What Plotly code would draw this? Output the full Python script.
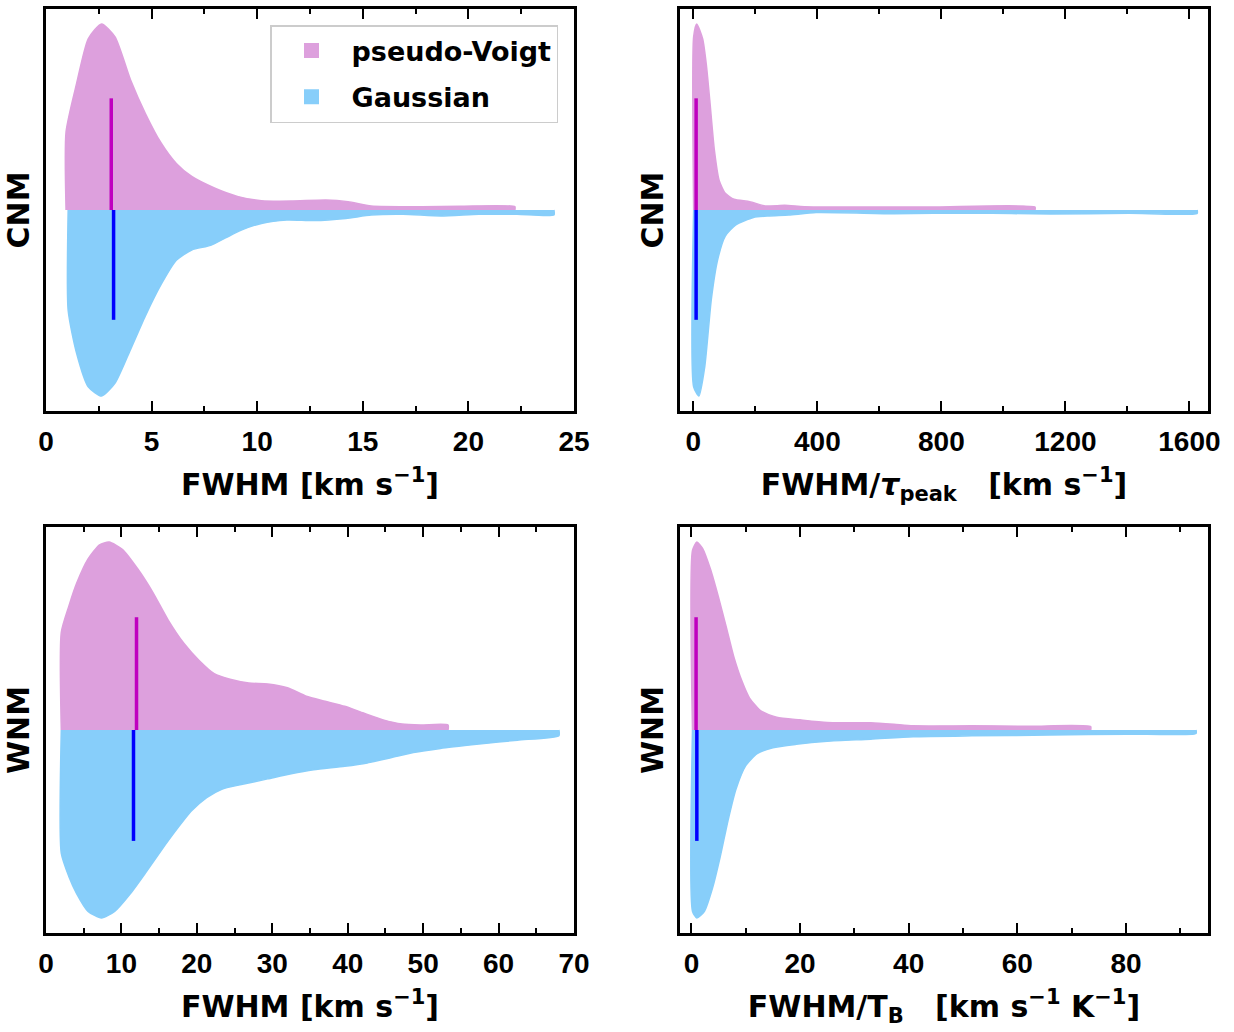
import plotly.graph_objects as go

# ---------------- data ----------------
# Panel A: CNM, FWHM [km/s]
cnm_fwhm_pv_x = [0.95, 1.45, 2.0, 2.63, 3.27, 4.0, 4.7, 5.45, 6.17, 6.9, 8.0, 9.1, 10.2, 11.6, 13.25, 14.3, 15.4, 17.8, 19.6, 22.2]
cnm_fwhm_pv_w = [0.42, 0.68, 0.92, 1.0, 0.93, 0.70, 0.52, 0.36, 0.25, 0.18, 0.117, 0.072, 0.05, 0.048, 0.054, 0.045, 0.022, 0.018, 0.02, 0.018]
cnm_fwhm_g_x = [1.05, 1.45, 2.0, 2.63, 3.27, 4.0, 4.7, 5.45, 6.17, 6.9, 7.8, 8.5, 9.25, 10.2, 11.4, 12.7, 14.2, 15.4, 16.9, 18.7, 20.5, 22.3, 24.05]
cnm_fwhm_g_w = [0.54, 0.77, 0.95, 1.0, 0.93, 0.75, 0.57, 0.40, 0.27, 0.215, 0.19, 0.15, 0.108, 0.072, 0.054, 0.057, 0.045, 0.027, 0.023, 0.032, 0.023, 0.023, 0.027]
cnm_fwhm_median = [3.09, 3.2]  # pseudo-Voigt, Gaussian

# Panel B: CNM, FWHM/tau_peak [km/s]
cnm_tau_pv_x = [1, 11, 30, 42, 53, 68, 83, 103, 131, 182, 232, 295, 358, 522, 774, 1102]
cnm_tau_pv_w = [0.93, 1.0, 0.92, 0.78, 0.59, 0.32, 0.16, 0.09, 0.058, 0.045, 0.022, 0.025, 0.018, 0.016, 0.016, 0.016]
cnm_tau_g_x = [1, 18, 37, 58, 78, 103, 137, 194, 245, 308, 396, 648, 900, 1152, 1404, 1625]
cnm_tau_g_w = [0.95, 1.0, 0.84, 0.48, 0.27, 0.14, 0.08, 0.04, 0.032, 0.027, 0.014, 0.02, 0.016, 0.022, 0.018, 0.018]
cnm_tau_median = [9, 9]

# Panel C: WNM, FWHM [km/s]
wnm_fwhm_pv_x = [2.03, 3.04, 4.06, 5.58, 7.1, 8.37, 10.15, 12.2, 14.2, 16.2, 18.3, 20.3, 22.3, 24.4, 26.9, 29.4, 32, 34.5, 37, 39.6, 42.1, 44.7, 47.2, 49.7, 53.3]
wnm_fwhm_pv_w = [0.52, 0.66, 0.78, 0.91, 0.985, 1.0, 0.96, 0.855, 0.73, 0.585, 0.46, 0.37, 0.30, 0.27, 0.25, 0.245, 0.225, 0.18, 0.153, 0.126, 0.09, 0.054, 0.032, 0.027, 0.027]
wnm_fwhm_g_x = [2.03, 3.04, 4.06, 5.58, 7.35, 9.1, 11.2, 13.2, 15.2, 17.3, 19.3, 21.3, 23.3, 25.9, 29.4, 32.5, 35.5, 39.6, 42.6, 45.7, 48.7, 52.3, 57.4, 62.5, 68]
wnm_fwhm_g_w = [0.657, 0.78, 0.87, 0.965, 1.0, 0.965, 0.87, 0.76, 0.645, 0.53, 0.43, 0.36, 0.315, 0.29, 0.26, 0.233, 0.212, 0.193, 0.175, 0.148, 0.12, 0.098, 0.075, 0.054, 0.03]
wnm_fwhm_median = [12.0, 11.6]

# Panel D: WNM, FWHM/T_B [km/s/K]
wnm_tb_pv_x = [0.2, 1.0, 2.1, 3.5, 4.95, 6.4, 7.8, 9.3, 10.7, 12.85, 15.7, 20, 25, 33, 37.3, 40.8, 51.6, 62.4, 73.5]
wnm_tb_pv_w = [0.955, 1.0, 0.964, 0.856, 0.71, 0.55, 0.39, 0.26, 0.17, 0.10, 0.068, 0.054, 0.04, 0.038, 0.03, 0.022, 0.022, 0.02, 0.018]
wnm_tb_g_x = [0.2, 1.0, 2.4, 3.9, 5.3, 6.75, 8.2, 10, 12.1, 15, 19.3, 25, 33, 40.8, 51.6, 66, 80.3, 92.9]
wnm_tb_g_w = [0.964, 1.0, 0.965, 0.84, 0.675, 0.48, 0.315, 0.19, 0.126, 0.094, 0.076, 0.06, 0.049, 0.036, 0.031, 0.027, 0.022, 0.018]
wnm_tb_median = [0.86, 1.0]

series_names = ["pseudo-Voigt", "Gaussian"]
row_labels = ["CNM", "WNM"]
x_titles = [
    "FWHM [km s<sup>\u22121</sup>]",
    "FWHM/<i>\u03c4</i><sub>peak</sub>\u00a0\u00a0\u00a0[km s<sup>\u22121</sup>]",
    "FWHM [km s<sup>\u22121</sup>]",
    "FWHM/T<sub>B</sub>\u00a0\u00a0\u00a0[km s<sup>\u22121</sup> K<sup>\u22121</sup>]",
]

# ---------------- style ----------------
PV_FILL = "#DDA0DD"
G_FILL = "#87CEFA"
PV_MED = "#BF00BF"
G_MED = "#0000FF"
FONT = "DejaVu Sans"
TICK_FONT = "Liberation Sans"
MED_FRAC = [0.60, 0.59]

W, H = 1234, 1032
col_px = [(46, 574), (680, 1208)]
row_px = [(9, 411), (527, 933)]

panels = [
    dict(pv=(cnm_fwhm_pv_x, cnm_fwhm_pv_w), g=(cnm_fwhm_g_x, cnm_fwhm_g_w), med=cnm_fwhm_median,
         xr=[0, 25], dtick=5, minor=2.5, row=0, col=0),
    dict(pv=(cnm_tau_pv_x, cnm_tau_pv_w), g=(cnm_tau_g_x, cnm_tau_g_w), med=cnm_tau_median,
         xr=[-43, 1660], dtick=400, minor=200, row=0, col=1),
    dict(pv=(wnm_fwhm_pv_x, wnm_fwhm_pv_w), g=(wnm_fwhm_g_x, wnm_fwhm_g_w), med=wnm_fwhm_median,
         xr=[0, 70], dtick=10, minor=5, row=1, col=0),
    dict(pv=(wnm_tb_pv_x, wnm_tb_pv_w), g=(wnm_tb_g_x, wnm_tb_g_w), med=wnm_tb_median,
         xr=[-2.1, 95.1], dtick=20, minor=10, row=1, col=1),
]

fig = go.Figure()
layout = dict(
    width=W, height=H,
    margin=dict(l=0, r=0, t=0, b=0, autoexpand=False),
    paper_bgcolor="white", plot_bgcolor="white",
    font=dict(family=FONT, color="black", size=26, weight="bold"),
    showlegend=True,
)


def half(xs, ws, sign):
    px = [xs[0]] + list(xs) + [xs[-1]]
    py = [0] + [sign * w for w in ws] + [0]
    return px, py


for i, p in enumerate(panels):
    k = "" if i == 0 else str(i + 1)
    xa, ya = "x" + k, "y" + k
    for (xs, ws), sign, col in ((p["pv"], 1, PV_FILL), (p["g"], -1, G_FILL)):
        px, py = half(xs, ws, sign)
        fig.add_trace(go.Scatter(
            x=px, y=py, xaxis=xa, yaxis=ya, mode="lines", fill="toself",
            fillcolor=col, line=dict(color=col, width=1.5, shape="spline", smoothing=0.6),
            showlegend=False, hoverinfo="skip"))
    for j, (m, col, sign) in enumerate(((p["med"][0], PV_MED, 1), (p["med"][1], G_MED, -1))):
        fig.add_trace(go.Scatter(
            x=[m, m], y=[0, sign * MED_FRAC[j]], xaxis=xa, yaxis=ya, mode="lines",
            line=dict(color=col, width=3.5), showlegend=False, hoverinfo="skip"))

    x0, x1 = col_px[p["col"]]
    y0, y1 = row_px[p["row"]]
    layout["xaxis" + k] = dict(
        domain=[x0 / W, x1 / W], anchor=ya, range=p["xr"], automargin=False,
        showline=True, linecolor="black", linewidth=3, mirror="allticks",
        ticks="inside", ticklen=10, tickwidth=1.5, tickcolor="black",
        dtick=p["dtick"], tick0=0,
        minor=dict(dtick=p["minor"], tick0=0, ticks="inside", ticklen=5, tickwidth=1.5, tickcolor="black"),
        showgrid=False, zeroline=False,
        tickfont=dict(family=TICK_FONT, size=28, weight="bold"),
        ticklabelstandoff=3,
        title=dict(text=x_titles[i], font=dict(family=FONT, size=30, weight="bold"), standoff=19),
    )
    layout["yaxis" + k] = dict(
        domain=[1 - y1 / H, 1 - y0 / H], anchor=xa, range=[-1.08, 1.08], automargin=False,
        showline=True, linecolor="black", linewidth=3, mirror=True,
        ticks="", showticklabels=False, showgrid=False, zeroline=False,
        title=dict(text=row_labels[p["row"]], font=dict(family=FONT, size=30, weight="bold"), standoff=5),
    )

# legend entries
for name, col in zip(series_names, (PV_FILL, G_FILL)):
    fig.add_trace(go.Scatter(x=[None], y=[None], mode="markers", name=name, legendgroup=name,
                             marker=dict(symbol="square", size=15, color=col)))

layout["legend"] = dict(
    x=270 / W, y=1 - 25 / H, xanchor="left", yanchor="top",
    bgcolor="white", bordercolor="#CCCCCC", borderwidth=1.5,
    font=dict(family=FONT, size=27, weight="bold"),
    itemsizing="trace", itemwidth=70, tracegroupgap=8,
)

fig.update_layout(**layout)
fig.write_html("out.html")
